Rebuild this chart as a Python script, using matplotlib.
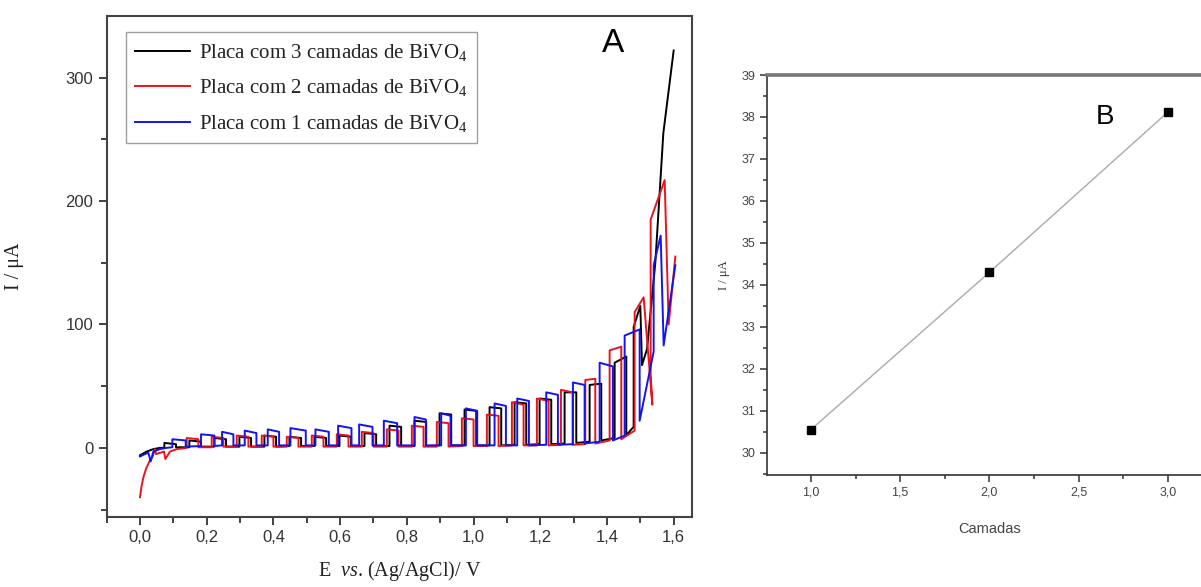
import matplotlib
matplotlib.use('Agg')
import matplotlib.pyplot as plt
from matplotlib.ticker import FixedLocator

plt.rcParams['mathtext.fontset'] = 'custom'
plt.rcParams['mathtext.rm'] = 'Liberation Serif'
plt.rcParams['mathtext.it'] = 'Liberation Serif:italic'

# ---------------- Panel A data (chopped-light voltammograms) ----------------
# Blue: 1 layer
blue_start_E = [0.0, 0.015, 0.025, 0.032, 0.04, 0.06, 0.08]
blue_start_I = [-7, -5, -4, -11, -3, -1, 0]
blue_on_E = [0.097, 0.183, 0.246, 0.314, 0.383, 0.451, 0.526, 0.594, 0.657, 0.731,
             0.823, 0.903, 0.977, 1.063, 1.131, 1.218, 1.298, 1.378, 1.453, 1.54]
blue_off_E = [0.137, 0.223, 0.28, 0.349, 0.417, 0.497, 0.566, 0.634, 0.697, 0.771,
              0.857, 0.931, 1.011, 1.097, 1.166, 1.253, 1.333, 1.418, 1.498, 1.561]
blue_dark_on = [0.5, 1.5, 2, 2, 2, 2, 2, 2, 2, 2, 2, 2, 2, 2, 2, 2.5, 3, 5, 10, 78]
blue_top_on = [7, 11, 13, 14, 15, 16, 15, 18, 19, 22, 25, 28, 32, 36, 40, 45, 53, 69, 91, 148]
blue_top_off = [6, 10, 11, 12, 13, 14, 13, 16, 17, 20, 23, 26, 30, 34, 38, 43, 51, 66, 96, 172]
blue_dark_off = [1, 1.5, 2, 2, 2, 2, 2, 2, 2, 2, 2, 2, 2, 2, 2, 2.5, 3.5, 6, 22, 172]
blue_end_E = [1.57, 1.605]
blue_end_I = [83, 148]

# Red: 2 layers
red_start_E = [0.0, 0.004, 0.01, 0.018, 0.028, 0.038, 0.044, 0.048, 0.06, 0.072, 0.076, 0.09, 0.11]
red_start_I = [-40, -32, -24, -17, -11, -7, -1, -5, -4, -3, -9, -3, -1]
red_on_E = [0.14, 0.215, 0.29, 0.365, 0.44, 0.515, 0.59, 0.665, 0.74, 0.815,
            0.89, 0.965, 1.04, 1.115, 1.19, 1.262, 1.335, 1.408, 1.483]
red_off_E = [0.175, 0.25, 0.325, 0.40, 0.475, 0.55, 0.625, 0.70, 0.775, 0.85,
             0.925, 1.0, 1.075, 1.15, 1.225, 1.297, 1.365, 1.443, 1.51]
red_dark_on = [0, 0.5, 1, 1, 1, 1, 1, 1, 1, 1, 1, 1.5, 1.5, 2, 2, 2.5, 3, 6, 14]
red_top_on = [8, 9, 10, 10, 9, 10, 11, 13, 15, 18, 21, 24, 27, 37, 40, 47, 55, 79, 110]
red_top_off = [7, 8, 9, 9, 8, 9, 10, 12, 14, 17, 20, 23, 26, 35, 38, 45, 56, 82, 122]
red_dark_off = [0.5, 1, 1, 1, 1, 1, 1, 1, 1, 1, 1, 1.5, 1.5, 2, 2, 2.5, 3.5, 7, 122]
red_end_E = [1.536, 1.531, 1.531, 1.573, 1.585, 1.605]
red_end_I = [35, 60, 185, 217, 100, 155]

# Black: 3 layers
black_start_E = [0.0, 0.02, 0.04, 0.06]
black_start_I = [-6, -3, -1, 0]
black_on_E = [0.073, 0.148, 0.223, 0.298, 0.373, 0.448, 0.523, 0.598, 0.673, 0.748,
              0.823, 0.898, 0.973, 1.048, 1.123, 1.198, 1.273, 1.348, 1.423]
black_off_E = [0.108, 0.183, 0.258, 0.333, 0.408, 0.483, 0.558, 0.633, 0.708, 0.783,
               0.858, 0.933, 1.008, 1.083, 1.158, 1.233, 1.308, 1.383, 1.458]
black_dark_on = [0, 0.5, 1, 1, 1, 1.5, 1.5, 1.5, 1.5, 1.5, 1.5, 2, 2, 2, 2.5, 3, 3.5, 5, 8]
black_top_on = [4, 6, 8, 9, 10, 9, 9, 10, 12, 18, 22, 28, 31, 33, 37, 40, 45, 51, 69]
black_top_off = [3, 5, 7, 8, 9, 8, 8, 9, 11, 17, 21, 27, 30, 32, 36, 39, 45, 52, 74]
black_dark_off = [0.5, 1, 1, 1, 1, 1.5, 1.5, 1.5, 1.5, 1.5, 1.5, 2, 2, 2, 2.5, 3, 4, 6, 10]
black_end_E = [1.47, 1.48, 1.48, 1.50, 1.505, 1.52, 1.545, 1.569, 1.6]
black_end_I = [14, 17, 98, 115, 67, 80, 150, 255, 322]

series_labels = ['Placa com 3 camadas de BiVO$_4$',
                 'Placa com 2 camadas de BiVO$_4$',
                 'Placa com 1 camadas de BiVO$_4$']

A_xticks = [0.0, 0.2, 0.4, 0.6, 0.8, 1.0, 1.2, 1.4, 1.6]
A_xticklabels = ['0,0', '0,2', '0,4', '0,6', '0,8', '1,0', '1,2', '1,4', '1,6']
A_yticks = [0, 100, 200, 300]
A_yticklabels = ['0', '100', '200', '300']

# ---------------- Panel B data ----------------
camadas = [1, 2, 3]
corrente = [30.55, 34.3, 38.12]
B_xticks = [1.0, 1.5, 2.0, 2.5, 3.0]
B_xticklabels = ['1,0', '1,5', '2,0', '2,5', '3,0']
B_yticks = [30, 31, 32, 33, 34, 35, 36, 37, 38, 39]
B_yticklabels = ['30', '31', '32', '33', '34', '35', '36', '37', '38', '39']


def chopped(sE, sI, onE, offE, d_on, t_on, t_off, d_off, eE, eI):
    E = list(sE)
    I = list(sI)
    for a, b, c, d, e, f in zip(onE, offE, d_on, t_on, t_off, d_off):
        E += [a, a, b, b]
        I += [c, d, e, f]
    E += list(eE)
    I += list(eI)
    return E, I


fig = plt.figure(figsize=(12.01, 5.87), dpi=100)

# ---------------- Panel A ----------------
axA = fig.add_axes([0.0888, 0.1193, 0.4874, 0.8535])
bE, bI = chopped(blue_start_E, blue_start_I, blue_on_E, blue_off_E, blue_dark_on,
                 blue_top_on, blue_top_off, blue_dark_off, blue_end_E, blue_end_I)
rE, rI = chopped(red_start_E, red_start_I, red_on_E, red_off_E, red_dark_on,
                 red_top_on, red_top_off, red_dark_off, red_end_E, red_end_I)
kE, kI = chopped(black_start_E, black_start_I, black_on_E, black_off_E, black_dark_on,
                 black_top_on, black_top_off, black_dark_off, black_end_E, black_end_I)

lk, = axA.plot(kE, kI, color='black', lw=1.4)
lr, = axA.plot(rE, rI, color='#e8141c', lw=1.4)
lb, = axA.plot(bE, bI, color='#1414f0', lw=1.4)

axA.set_xlim(-0.1, 1.655)
axA.set_ylim(-56, 350)
axA.xaxis.set_major_locator(FixedLocator(A_xticks))
axA.set_xticklabels(A_xticklabels)
axA.xaxis.set_minor_locator(FixedLocator([-0.1, 0.1, 0.3, 0.5, 0.7, 0.9, 1.1, 1.3, 1.5]))
axA.yaxis.set_major_locator(FixedLocator(A_yticks))
axA.set_yticklabels(A_yticklabels)
axA.yaxis.set_minor_locator(FixedLocator([-50, 50, 150, 250]))
axA.tick_params(which='both', direction='out', top=False, right=False,
                color='#333333', width=1.3, labelsize=12, labelcolor='#333333')
axA.tick_params(which='major', length=6)
axA.tick_params(which='minor', length=4)
for lab in axA.get_xticklabels() + axA.get_yticklabels():
    lab.set_family('Liberation Sans')
for sp in axA.spines.values():
    sp.set_color('#444444')
    sp.set_linewidth(1.5)

axA.set_xlabel(r'E  $\it{vs}$. (Ag/AgCl)/ V', family='Liberation Serif', fontsize=14.5,
               color='#222222', labelpad=10)
axA.set_ylabel('I / μA', family='Liberation Serif', fontsize=14.5, color='#222222', labelpad=30)
axA.text(0.865, 0.945, 'A', transform=axA.transAxes, fontsize=24, family='Liberation Sans',
         ha='center', va='center', color='black')

leg = axA.legend([lk, lr, lb], series_labels, loc='upper left',
                 bbox_to_anchor=(0.033, 0.967), borderaxespad=0,
                 prop={'family': 'Liberation Serif', 'size': 15},
                 handlelength=2.6, handletextpad=0.45, labelspacing=0.7,
                 borderpad=0.45, fancybox=False, frameon=True)
leg.get_frame().set_edgecolor('#888888')
leg.get_frame().set_linewidth(1.0)
for t in leg.get_texts():
    t.set_color('#222222')

# ---------------- Panel B ----------------
axB = fig.add_axes([0.6386, 0.1908, 0.3705, 0.6814])
axB.plot(camadas, corrente, color='#aaaaaa', lw=1.0, zorder=2)
axB.plot(camadas, corrente, ls='none', marker='s', ms=6, color='black', zorder=3)
axB.set_xlim(0.754, 3.246)
axB.set_ylim(29.47, 39.0)
axB.xaxis.set_major_locator(FixedLocator(B_xticks))
axB.set_xticklabels(B_xticklabels)
axB.xaxis.set_minor_locator(FixedLocator([1.25, 1.75, 2.25, 2.75]))
axB.yaxis.set_major_locator(FixedLocator(B_yticks))
axB.set_yticklabels(B_yticklabels)
axB.yaxis.set_minor_locator(FixedLocator([29.5, 30.5, 31.5, 32.5, 33.5, 34.5, 35.5, 36.5, 37.5, 38.5]))
axB.tick_params(which='both', direction='out', top=False, right=False,
                color='#333333', width=1.1, labelsize=9, labelcolor='#444444')
axB.tick_params(which='major', length=5)
axB.tick_params(which='minor', length=3)
for lab in axB.get_xticklabels() + axB.get_yticklabels():
    lab.set_family('Liberation Sans')
for sp in axB.spines.values():
    sp.set_color('#333333')
    sp.set_linewidth(1.2)
axB.spines['top'].set_color('#777777')
axB.spines['top'].set_linewidth(2.6)
axB.set_xlabel('Camadas', family='Liberation Sans', fontsize=10.5, color='#444444', labelpad=17)
axB.set_ylabel('I / μA', family='Liberation Serif', fontsize=9, color='#333333', labelpad=8)
axB.text(0.76, 0.895, 'B', transform=axB.transAxes, fontsize=20, family='Liberation Sans',
         ha='center', va='center', color='black')

fig.savefig('out.png', dpi=100)
